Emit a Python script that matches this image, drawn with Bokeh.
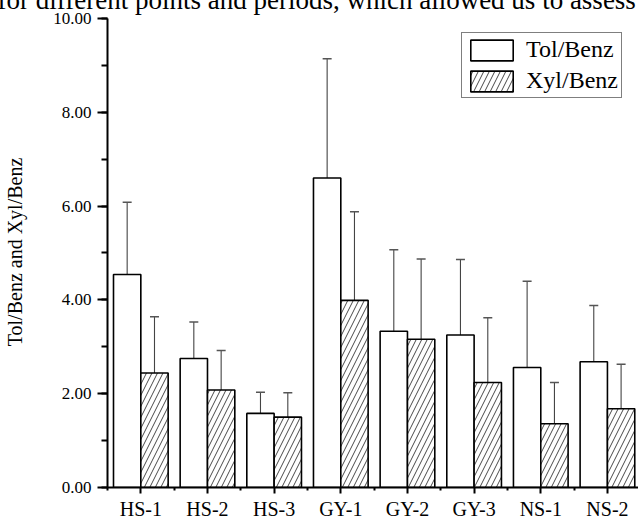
from bokeh.plotting import figure
from bokeh.models import (Range1d, FixedTicker, SingleIntervalTicker, PrintfTickFormatter,
                          ColumnDataSource, Whisker, TeeHead, Legend, LegendItem)
from bokeh.embed import file_html
from bokeh.resources import INLINE
import numpy as np

categories = ["HS-1", "HS-2", "HS-3", "GY-1", "GY-2", "GY-3", "NS-1", "NS-2"]
tol = [4.54, 2.75, 1.58, 6.60, 3.33, 3.25, 2.56, 2.68]
tol_upper = [6.08, 3.53, 2.03, 9.14, 5.07, 4.86, 4.40, 3.88]
tol_lower = [2.99, 1.98, 1.14, 4.06, 1.58, 1.65, 0.70, 1.50]
xyl = [2.44, 2.08, 1.50, 3.99, 3.16, 2.24, 1.36, 1.68]
xyl_upper = [3.64, 2.92, 2.02, 5.88, 4.87, 3.62, 2.24, 2.63]
xyl_lower = [1.21, 1.27, 0.99, 2.07, 1.46, 0.85, 0.51, 0.74]
series_names = ["Tol/Benz", "Xyl/Benz"]
y_label = "Tol/Benz and Xyl/Benz"
top_text = "for different points and periods, which allowed us to assess"

FONT = "Liberation Serif"
BW = 0.41

centers = np.arange(1, len(categories) + 1, dtype=float)

p = figure(width=638, height=546, output_backend="svg", toolbar_location=None,
           x_range=Range1d(0.5, 8.466), y_range=Range1d(0, 10.042),
           min_border_left=107, min_border_right=0, min_border_top=40, min_border_bottom=32,
           margin=(-24, 0, 0, 0))
p.outline_line_color = None
p.xgrid.grid_line_color = None
p.ygrid.grid_line_color = None
p.background_fill_color = "white"
p.border_fill_color = "white"

p.title.text = top_text
p.title.align = "left"
p.title.offset = -110
p.title.standoff = 3
p.title.text_font = FONT
p.title.text_font_size = "27px"
p.title.text_font_style = "normal"
p.title.text_color = "black"

src_t = ColumnDataSource(dict(x=centers - BW / 2, top=tol, c=centers - BW / 2,
                              up=tol_upper, lo=tol_lower))
src_x = ColumnDataSource(dict(x=centers + BW / 2, top=xyl, c=centers + BW / 2,
                              up=xyl_upper, lo=xyl_lower))

r1 = p.vbar(x="x", top="top", bottom=0, width=BW, source=src_t,
            fill_color="white", line_color="black", line_width=1.6)
r2 = p.vbar(x="x", top="top", bottom=0, width=BW, source=src_x,
            fill_color="white", line_color="black", line_width=1.6,
            hatch_pattern="right_diagonal_line", hatch_color="#333333",
            hatch_scale=11, hatch_weight=0.9)

for src in (src_t, src_x):
    w = Whisker(source=src, base="c", upper="up", lower="lo",
                line_color="#444444", line_width=1.1,
                upper_head=TeeHead(size=9, line_color="#555555", line_width=1.5),
                lower_head=TeeHead(size=9, line_color="#555555", line_width=1.5))
    p.add_layout(w)

# y axis
yax = p.yaxis[0]
yax.bounds = (0, 10)
yax.ticker = SingleIntervalTicker(interval=2, num_minor_ticks=2)
yax.formatter = PrintfTickFormatter(format="%.2f")
yax.axis_line_width = 2
yax.major_tick_line_width = 2
yax.minor_tick_line_width = 2
yax.major_tick_out = 10
yax.major_tick_in = 0
yax.minor_tick_out = 6
yax.minor_tick_in = 0
yax.major_label_text_font = FONT
yax.major_label_text_font_size = "17px"
yax.major_label_text_color = "black"
yax.major_label_standoff = 6
yax.axis_label = y_label
yax.axis_label_text_font = FONT
yax.axis_label_text_font_style = "normal"
yax.axis_label_text_font_size = "20px"
yax.axis_label_text_color = "black"
yax.axis_label_standoff = 24

# x axis
xax = p.xaxis[0]
xax.ticker = FixedTicker(ticks=list(centers), minor_ticks=list(centers - 0.5) + [centers[-1] + 0.5])
xax.major_label_overrides = {float(c): name for c, name in zip(centers, categories)}
xax.axis_line_width = 2
xax.major_tick_line_width = 2
xax.minor_tick_line_width = 2
xax.major_tick_out = 6
xax.major_tick_in = 0
xax.minor_tick_out = 3
xax.minor_tick_in = 0
xax.major_label_text_font = FONT
xax.major_label_text_font_size = "20px"
xax.major_label_text_color = "black"
xax.major_label_standoff = 4

legend = Legend(items=[LegendItem(label=series_names[0], renderers=[r1]),
                       LegendItem(label=series_names[1], renderers=[r2])],
                location=(354, 389), label_text_font=FONT, label_text_font_size="24px",
                label_text_color="black", glyph_width=53, glyph_height=26,
                label_height=26, padding=3, spacing=4, label_standoff=8, margin=0,
                border_line_color="black", border_line_width=1,
                background_fill_color="white", background_fill_alpha=1)
p.add_layout(legend)

open("out.html", "w").write(file_html(p, INLINE))
